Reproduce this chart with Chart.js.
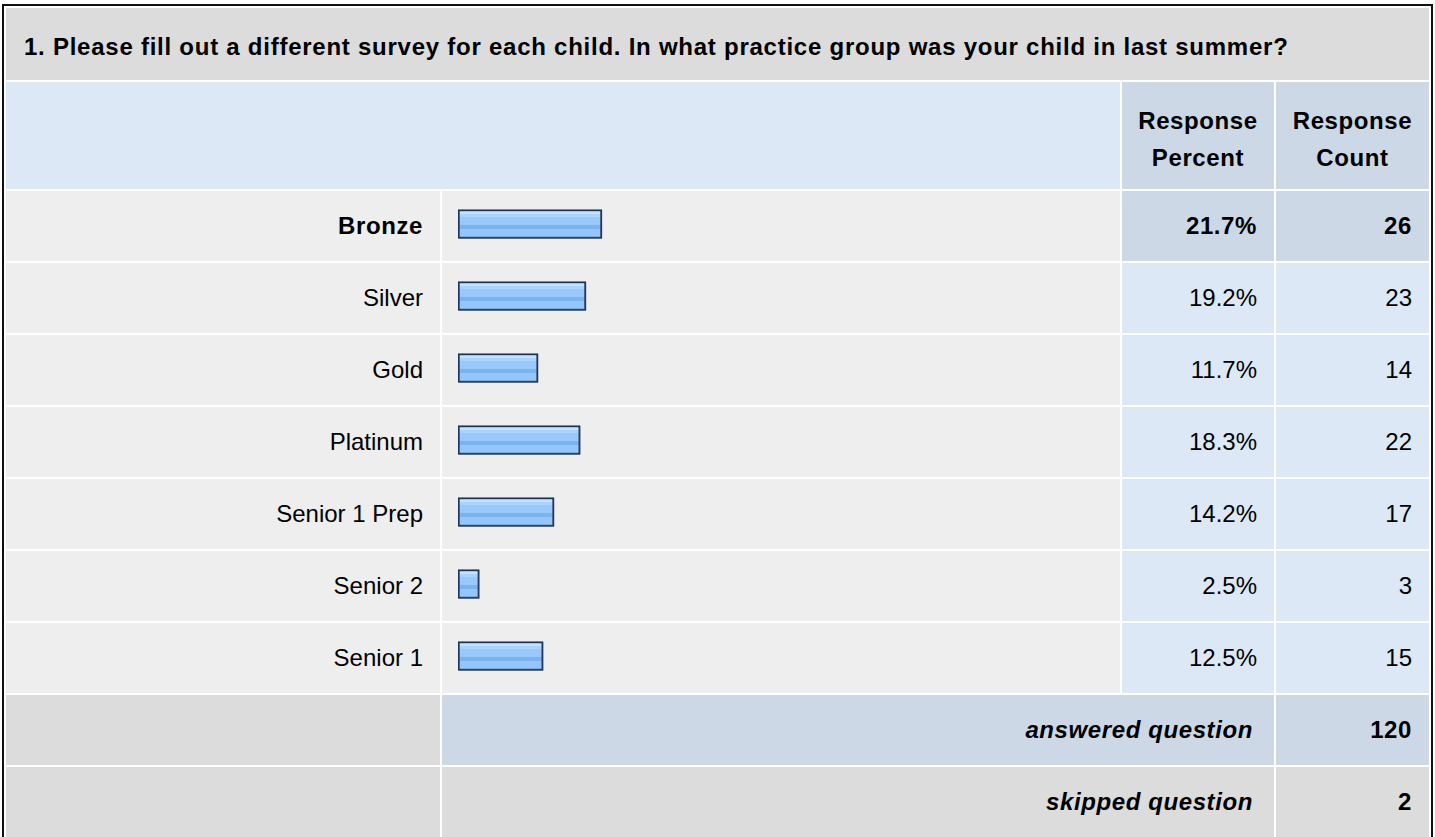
<!DOCTYPE html>
<html>
<head>
<meta charset="utf-8">
<title>Practice group survey</title>
<script src="https://cdn.jsdelivr.net/npm/chart.js@4.4.1/dist/chart.umd.min.js"></script>
<style>
  html, body { margin: 0; padding: 0; background: #fff; }
  body { width: 1435px; height: 837px; overflow: hidden; position: relative;
         font-family: "Liberation Sans", Arial, Helvetica, sans-serif; color: #000; }
  #box { position: absolute; left: 2px; top: 4px; border: 2px solid #111; padding: 2px; background: #fff; }
  #grid { display: grid; gap: 2px;
          grid-template-columns: 434px 678px 152px 153px;
          grid-template-rows: 72px 107px repeat(9, 70px); }
  .cell { box-sizing: border-box; display: flex; align-items: center; font-size: 24px; white-space: nowrap; }
  .title { grid-column: 1 / 5; background: #dcdcdc; font-weight: bold; letter-spacing: 0.75px; padding-left: 18px; padding-top: 5px; }
  .head-blank { grid-column: 1 / 3; background: #dce8f5; }
  .head { background: #ccd8e6; font-weight: bold; letter-spacing: 0.6px; justify-content: center; text-align: center; line-height: 37px; padding-top: 6px; }
  .label { background: #eeeeee; justify-content: flex-end; padding-right: 17px; }
  .bar { background: #eeeeee; }
  .num { background: #dce8f5; justify-content: flex-end; padding-right: 17px; }
  .top .num { background: #ccd8e6; }
  .top .label, .top .num { font-weight: bold; letter-spacing: 0.6px; }
  .sum-left { background: #dcdcdc; }
  .sum-mid { grid-column: 2 / 4; justify-content: flex-end; padding-right: 21px; font-weight: bold; font-style: italic; letter-spacing: 0.6px; }
  .sum-num { justify-content: flex-end; padding-right: 17px; font-weight: bold; letter-spacing: 0.6px; }
  .answered { background: #ccd8e6; }
  .skipped { background: #dcdcdc; }
  .row { display: contents; }
  #chartWrap { position: absolute; left: 442px; top: 188px; width: 678px; height: 504px; z-index: 2; pointer-events: none; }
</style>
</head>
<body>
<div id="box"><div id="grid"></div></div>
<div id="chartWrap"><canvas id="barras" width="678" height="504"></canvas></div>
<script>
// dados
var questionTitle = '1. Please fill out a different survey for each child. In what practice group was your child in last summer?';
var categories = ['Bronze', 'Silver', 'Gold', 'Platinum', 'Senior 1 Prep', 'Senior 2', 'Senior 1'];
var responsePercent = [21.7, 19.2, 11.7, 18.3, 14.2, 2.5, 12.5];
var responseCount = [26, 23, 14, 22, 17, 3, 15];
var answeredQuestion = 120;
var skippedQuestion = 2;

function cell(cls, html) {
    var d = document.createElement('div');
    d.className = 'cell ' + cls;
    d.innerHTML = html || '';
    return d;
}

var grid = document.getElementById('grid');
grid.appendChild(cell('title', questionTitle));
grid.appendChild(cell('head-blank'));
grid.appendChild(cell('head', 'Response<br>Percent'));
grid.appendChild(cell('head', 'Response<br>Count'));

// a resposta mais escolhida fica destacada
var maior = responseCount.indexOf(Math.max.apply(null, responseCount));
for (var i = 0; i < categories.length; i++) {
    var row = document.createElement('div');
    row.className = 'row' + (i === maior ? ' top' : '');
    row.appendChild(cell('label', categories[i]));
    row.appendChild(cell('bar'));
    row.appendChild(cell('num', responsePercent[i].toFixed(1) + '%'));
    row.appendChild(cell('num', String(responseCount[i])));
    grid.appendChild(row);
}

grid.appendChild(cell('sum-left'));
grid.appendChild(cell('sum-mid answered', 'answered question'));
grid.appendChild(cell('sum-num answered', String(answeredQuestion)));
grid.appendChild(cell('sum-left'));
grid.appendChild(cell('sum-mid skipped', 'skipped question'));
grid.appendChild(cell('sum-num skipped', String(skippedQuestion)));

// barra com listras horizontais, como a imagem original
var ESPESSURA = 29;
function gradienteBarra(context) {
    var chart = context.chart;
    if (!chart.chartArea || context.dataIndex === undefined) return '#97c8fc';
    var cy = chart.scales.y.getPixelForValue(context.dataIndex);
    var topo = cy - ESPESSURA / 2;
    var g = chart.ctx.createLinearGradient(0, topo, 0, topo + ESPESSURA);
    var faixas = [
        [0.00, '#c6e2fe'], [0.16, '#c6e2fe'],
        [0.16, '#acd3fd'], [0.25, '#acd3fd'],
        [0.25, '#98c8fc'], [0.54, '#98c8fc'],
        [0.54, '#7bb2f0'], [0.68, '#7bb2f0'],
        [0.68, '#94c6fb'], [1.00, '#94c6fb']
    ];
    faixas.forEach(function (f) { g.addColorStop(f[0], f[1]); });
    return g;
}

var sombra = {
    id: 'sombra',
    beforeDatasetsDraw: function (chart) {
        var ctx = chart.ctx;
        ctx.save();
        ctx.shadowColor = 'rgba(70, 80, 100, 0.45)';
        ctx.shadowOffsetX = 1;
        ctx.shadowOffsetY = 1;
        ctx.shadowBlur = 0;
    },
    afterDatasetsDraw: function (chart) {
        chart.ctx.restore();
    }
};

var inicio = -0.83; // pequeno toco mínimo que as barras têm no original

var myChart = new Chart(document.getElementById('barras').getContext('2d'), {
    type: 'bar',
    data: {
        labels: categories,
        datasets: [{
            data: responsePercent,
            base: inicio,
            backgroundColor: gradienteBarra,
            borderColor: '#1c355c',
            borderWidth: 2,
            borderSkipped: false,
            barThickness: ESPESSURA
        }]
    },
    options: {
        indexAxis: 'y',
        responsive: false,
        animation: false,
        layout: { padding: { left: 16, right: 18, top: 0, bottom: 0 } },
        plugins: { legend: { display: false }, tooltip: { enabled: false } },
        scales: {
            x: { display: false, min: inicio, max: 100 },
            y: { display: false }
        }
    },
    plugins: [sombra]
});
</script>
</body>
</html>
